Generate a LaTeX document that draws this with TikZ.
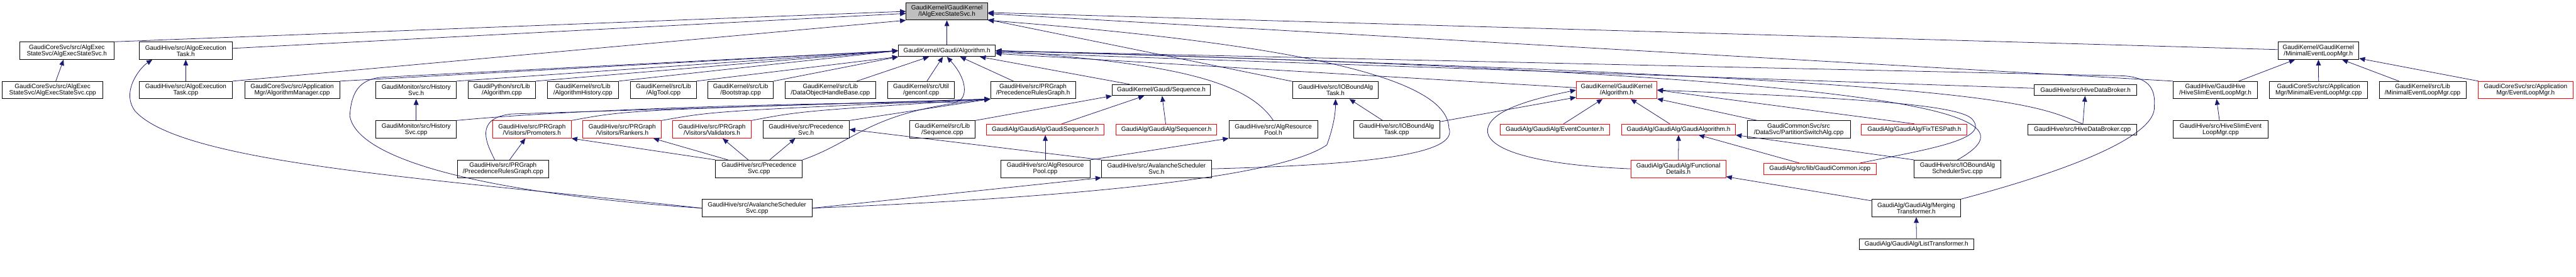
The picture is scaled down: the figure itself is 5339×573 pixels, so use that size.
\documentclass[tikz,border=0pt]{standalone}
\usepackage{fontspec}
\setmainfont{Liberation Sans}
\usetikzlibrary{arrows.meta}
\definecolor{EdgeBlue}{HTML}{191970}
\definecolor{RootGray}{HTML}{BFBFBF}
\definecolor{TruncRed}{HTML}{FF0000}

\begin{document}
\begin{tikzpicture}[x=1pt,y=-1pt,
  file/.style={draw=black,line width=1.1pt,align=center,inner sep=0pt,minimum height=36,font=\fontsize{13}{13.3}\selectfont},
  trunc/.style={file,draw=TruncRed},
  dep/.style={draw=EdgeBlue,line width=1pt,-{Triangle[length=12pt,width=10pt]}}]
\useasboundingbox (0,0) rectangle (5339,573);

\node[file,fill=RootGray,minimum width=169] (root) at (1962.5,23.5) {GaudiKernel/GaudiKernel\\/IAlgExecStateSvc.h};

\node[file,minimum width=195] (aesh) at (138.5,105) {GaudiCoreSvc/src/AlgExec\\StateSvc/AlgExecStateSvc.h};
\node[file,minimum width=194] (aeth) at (385,105) {GaudiHive/src/AlgoExecution\\Task.h};
\node[file,minimum width=201,minimum height=24] (galg) at (1962.5,105) {GaudiKernel/Gaudi/Algorithm.h};
\node[file,minimum width=168] (melmh) at (4805,105) {GaudiKernel/GaudiKernel\\/MinimalEventLoopMgr.h};

\node[file,minimum width=208] (aesc) at (109,186.5) {GaudiCoreSvc/src/AlgExec\\StateSvc/AlgExecStateSvc.cpp};
\node[file,minimum width=194] (aetc) at (385,186.5) {GaudiHive/src/AlgoExecution\\Task.cpp};
\node[file,minimum width=197] (amgr) at (605.5,186.5) {GaudiCoreSvc/src/Application\\Mgr/AlgorithmManager.cpp};
\node[file,minimum width=167] (hsvh) at (862.5,186.5) {GaudiMonitor/src/History\\Svc.h};
\node[file,minimum width=140] (pyalg) at (1040,186.5) {GaudiPython/src/Lib\\/Algorithm.cpp};
\node[file,minimum width=148] (ahist) at (1208,186.5) {GaudiKernel/src/Lib\\/AlgorithmHistory.cpp};
\node[file,minimum width=136] (atool) at (1375,186.5) {GaudiKernel/src/Lib\\/AlgTool.cpp};
\node[file,minimum width=136] (boot) at (1535,186.5) {GaudiKernel/src/Lib\\/Bootstrap.cpp};
\node[file,minimum width=188] (dohb) at (1721,186.5) {GaudiKernel/src/Lib\\/DataObjectHandleBase.cpp};
\node[file,minimum width=138] (genc) at (1909,186.5) {GaudiKernel/src/Util\\/genconf.cpp};
\node[file,minimum width=176] (prgh) at (2141,186.5) {GaudiHive/src/PRGraph\\/PrecedenceRulesGraph.h};
\node[file,minimum width=204,minimum height=23] (seqh) at (2407,186.5) {GaudiKernel/Gaudi/Sequence.h};
\node[file,minimum width=178] (iobth) at (2768,186.5) {GaudiHive/src/IOBoundAlg\\Task.h};
\node[trunc,minimum width=167] (kalg) at (3350.5,186.5) {GaudiKernel/GaudiKernel\\/Algorithm.h};
\node[file,minimum width=213,minimum height=23] (hdbh) at (4322.5,186.5) {GaudiHive/src/HiveDataBroker.h};
\node[file,minimum width=175] (hslh) at (4591.5,186.5) {GaudiHive/GaudiHive\\/HiveSlimEventLoopMgr.h};
\node[file,minimum width=203] (melmc1) at (4805.5,186.5) {GaudiCoreSvc/src/Application\\Mgr/MinimalEventLoopMgr.cpp};
\node[file,minimum width=180] (melmc2) at (5021,186.5) {GaudiKernel/src/Lib\\/MinimalEventLoopMgr.cpp};
\node[trunc,minimum width=197] (elmh) at (5234.5,186.5) {GaudiCoreSvc/src/Application\\Mgr/EventLoopMgr.h};

\node[file,minimum width=167] (hsvc) at (862.5,268) {GaudiMonitor/src/History\\Svc.cpp};
\node[trunc,minimum width=163] (prom) at (1102.5,268) {GaudiHive/src/PRGraph\\/Visitors/Promoters.h};
\node[trunc,minimum width=163] (rank) at (1289.5,268) {GaudiHive/src/PRGraph\\/Visitors/Rankers.h};
\node[trunc,minimum width=163] (vali) at (1475.5,268) {GaudiHive/src/PRGraph\\/Visitors/Validators.h};
\node[file,minimum width=179] (psvh) at (1670.5,268) {GaudiHive/src/Precedence\\Svc.h};
\node[file,minimum width=136] (seqc) at (1953,268) {GaudiKernel/src/Lib\\/Sequence.cpp};
\node[trunc,minimum width=243,minimum height=22] (gseqh) at (2166.5,268) {GaudiAlg/GaudiAlg/GaudiSequencer.h};
\node[trunc,minimum width=209,minimum height=22] (sequh) at (2417.5,268) {GaudiAlg/GaudiAlg/Sequencer.h};
\node[file,minimum width=184] (arph) at (2639,268) {GaudiHive/src/AlgResource\\Pool.h};
\node[file,minimum width=179] (iobtc) at (2894.5,268) {GaudiHive/src/IOBoundAlg\\Task.cpp};
\node[trunc,minimum width=227,minimum height=22] (evch) at (3222.5,268) {GaudiAlg/GaudiAlg/EventCounter.h};
\node[trunc,minimum width=236,minimum height=22] (galgh) at (3479,268) {GaudiAlg/GaudiAlg/GaudiAlgorithm.h};
\node[file,minimum width=214] (psac) at (3728,268) {GaudiCommonSvc/src\\/DataSvc/PartitionSwitchAlg.cpp};
\node[trunc,minimum width=219,minimum height=22] (fixh) at (3967.5,268) {GaudiAlg/GaudiAlg/FixTESPath.h};
\node[file,minimum width=226,minimum height=22] (hdbc) at (4316,268) {GaudiHive/src/HiveDataBroker.cpp};
\node[file,minimum width=197] (hslc) at (4602.5,268) {GaudiHive/src/HiveSlimEvent\\LoopMgr.cpp};

\node[file,minimum width=189] (prgc) at (1042.5,349.5) {GaudiHive/src/PRGraph\\/PrecedenceRulesGraph.cpp};
\node[file,minimum width=180] (psvc) at (1573,349.5) {GaudiHive/src/Precedence\\Svc.cpp};
\node[file,minimum width=185] (arpc) at (2166.5,349.5) {GaudiHive/src/AlgResource\\Pool.cpp};
\node[file,minimum width=228] (ashh) at (2397,349.5) {GaudiHive/src/AvalancheScheduler\\Svc.h};
\node[trunc,minimum width=197] (fdet) at (3478.5,349.5) {GaudiAlg/GaudiAlg/Functional\\Details.h};
\node[trunc,minimum width=234,minimum height=23] (gcom) at (3772,349.5) {GaudiAlg/src/lib/GaudiCommon.icpp};
\node[file,minimum width=180] (iobsc) at (4057,349.5) {GaudiHive/src/IOBoundAlg\\SchedulerSvc.cpp};

\node[file,minimum width=228] (ashc) at (1569,431) {GaudiHive/src/AvalancheScheduler\\Svc.cpp};
\node[file,minimum width=183] (mtrh) at (3971.5,431) {GaudiAlg/GaudiAlg/Merging\\Transformer.h};

\node[file,minimum width=238,minimum height=23] (ltrh) at (3972,505.5) {GaudiAlg/GaudiAlg/ListTransformer.h};

\draw[dep] (aesc) -- (aesh);
\draw[dep] (aetc) -- (aeth);
\draw[dep] (aesh.north east) -- (root.west);
\draw[dep] (aeth) -- (root);
\draw[dep] (aetc.north east) -- (root.south west);
\draw[dep] (galg) -- (root);
\draw[dep] (melmh) -- (root);
\draw[dep] (hslh.north west) -- (root);
\draw[dep] (iobth) -- (root);
\draw[dep] (ashh.east) .. controls (2900,340) and (3020,310) .. (3003,265) .. controls (3000,180) and (2800,100) .. (root.south east);

\draw[dep] (amgr.north east) -- (galg.west);
\draw[dep] (hsvh.north east) -- (galg.west);
\draw[dep] (pyalg.north east) -- (galg.west);
\draw[dep] (ahist.north east) -- (galg.west);
\draw[dep] (atool.north east) -- (galg.south west);
\draw[dep] (boot.north east) -- (galg.south west);
\draw[dep] (dohb) -- (galg);
\draw[dep] (genc) -- (galg);
\draw[dep] (prgh) -- (galg);
\draw[dep] (seqh) -- (galg);
\draw[dep] (kalg) -- (galg);
\draw[dep] (hdbh) -- (galg);
\draw[dep] (hdbc.north) .. controls (4200,210) and (4150,165) .. (galg.east);
\draw[dep] (iobsc.north) .. controls (4200,250) and (4150,160) .. (galg.east);
\draw[dep] (arph.north) .. controls (2580,160) and (2400,130) .. (galg.east);
\draw[dep] (hsvc.north east) .. controls (1200,225) and (1700,212) .. (1975,212) .. controls (2005,212) and (2010,170) .. (galg.south);
\draw[dep] (ashc.west) .. controls (1000,400) and (740,330) .. (725,240) .. controls (728,190) and (745,165) .. (790,160) -- (galg.west);
\draw[dep] (mtrh.north east) .. controls (4300,350) and (4470,280) .. (4465,220) .. controls (4468,180) and (4450,160) .. (4400,157) -- (galg.east);
\draw[dep] (ashc.west) .. controls (900,370) and (380,340) .. (280,230) .. controls (250,190) and (290,140) .. (aeth.195);

\draw[dep] (hsvc) -- (hsvh);
\draw[dep] (prom.north east) .. controls (1300,228) .. (prgh.south west);
\draw[dep] (rank.north east) .. controls (1480,230) .. (prgh.south west);
\draw[dep] (vali.north east) .. controls (1660,230) .. (prgh.south west);
\draw[dep] (psvh.north east) -- (prgh.south west);
\draw[dep] (psvc.north east) .. controls (1780,290) and (1800,230) .. (prgh.south west);
\draw[dep] ([xshift=-17pt]prgc.north) .. controls (1010,300) and (980,245) .. (1060,236) -- (prgh.south west);
\draw[dep] (prgc) -- (prom);
\draw[dep] (psvc.north west) -- (prom.south east);
\draw[dep] (psvc) -- (rank);
\draw[dep] (psvc) -- (vali);
\draw[dep] (psvc) -- (psvh);
\draw[dep] (ashh.north west) -- (psvh.east);
\draw[dep] (seqc.north east) -- (seqh.south west);
\draw[dep] (gseqh) -- (seqh);
\draw[dep] (sequh) -- (seqh);
\draw[dep] (arpc) -- (gseqh);
\draw[dep] (arpc.north east) -- (arph.south west);
\draw[dep] (ashc.east) -- (ashh.south west);
\draw[dep] (ashc.east) .. controls (2200,410) and (2650,370) .. (2750,300) .. controls (2765,260) and (2768,230) .. (iobth.south);
\draw[dep] (iobtc) -- (iobth);
\draw[dep] (iobtc) -- (kalg);

\draw[dep] (evch) -- (kalg);
\draw[dep] (galgh) -- (kalg);
\draw[dep] (fixh.north) -- (kalg.east);
\draw[dep] (psac) -- (kalg);
\draw[dep] ([xshift=-34pt]gcom.north east) .. controls (3990,310) and (4120,290) .. (4090,250) .. controls (4075,220) and (3900,205) .. (kalg.east);
\draw[dep] (fdet.west) .. controls (3150,340) and (3060,300) .. (3088,255) .. controls (3110,220) and (3200,200) .. (kalg.west);
\draw[dep] (fdet) -- (galgh);
\draw[dep] (gcom) -- (galgh);
\draw[dep] (iobsc.north west) -- (galgh.south east);
\draw[dep] (mtrh) -- (fdet);
\draw[dep] (ltrh) -- (mtrh);

\draw[dep] (hdbc) -- (hdbh);
\draw[dep] (hslc) -- (hslh);
\draw[dep] (hslh) -- (melmh);
\draw[dep] (melmc1) -- (melmh);
\draw[dep] (melmc2) -- (melmh);
\draw[dep] (elmh) -- (melmh);
\end{tikzpicture}
\end{document}
